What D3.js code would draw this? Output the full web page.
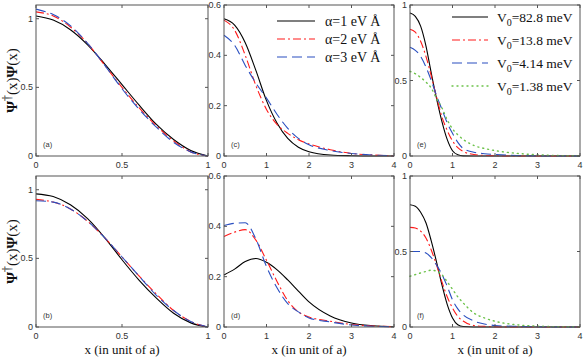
<!DOCTYPE html>
<html>
<head>
<meta charset="utf-8">
<script src="https://cdn.jsdelivr.net/npm/d3@7"></script>
<style>
  body { margin: 0; background: #fff; }
  svg { display: block; }
</style>
</head>
<body>
<div id="chart"></div>
<script>
// x grids
const xsAB = [0, 0.1, 0.2, 0.3, 0.4, 0.5, 0.6, 0.7, 0.8, 0.9, 1];
const xsCD = [0, 0.25, 0.5, 0.75, 1, 1.25, 1.5, 1.75, 2, 2.5, 3, 3.5, 4];
const xsEF = [0, 0.125, 0.25, 0.375, 0.5, 0.625, 0.75, 0.875, 1, 1.125, 1.25, 1.5, 1.75, 2, 2.5, 3, 3.5, 4];

// panel (a)
const aBlack = [1.02, 0.99, 0.92, 0.81, 0.67, 0.52, 0.37, 0.23, 0.12, 0.04, 0];
const aRed   = [1.05, 1.02, 0.94, 0.82, 0.66, 0.50, 0.35, 0.22, 0.11, 0.03, 0];
const aBlue  = [1.07, 1.03, 0.95, 0.82, 0.66, 0.49, 0.34, 0.21, 0.10, 0.03, 0];
// panel (b)
const bBlack = [0.97, 0.95, 0.89, 0.79, 0.65, 0.49, 0.34, 0.21, 0.10, 0.03, 0];
const bRed   = [0.93, 0.91, 0.86, 0.77, 0.65, 0.51, 0.37, 0.24, 0.12, 0.04, 0];
const bBlue  = [0.92, 0.91, 0.86, 0.77, 0.65, 0.51, 0.37, 0.23, 0.12, 0.04, 0];
// panel (c)
const cBlack = [0.545, 0.52, 0.45, 0.34, 0.22, 0.13, 0.07, 0.035, 0.017, 0.004, 0.001, 0, 0];
const cRed   = [0.54, 0.50, 0.40, 0.28, 0.185, 0.125, 0.09, 0.065, 0.048, 0.025, 0.01, 0.004, 0.001];
const cBlue  = [0.48, 0.44, 0.36, 0.29, 0.23, 0.165, 0.11, 0.07, 0.045, 0.022, 0.01, 0.004, 0.001];
// panel (d)
const dBlack = [0.207, 0.23, 0.26, 0.272, 0.257, 0.227, 0.187, 0.143, 0.10, 0.044, 0.016, 0.005, 0.001];
const dRed   = [0.36, 0.377, 0.387, 0.345, 0.265, 0.18, 0.105, 0.06, 0.04, 0.023, 0.01, 0.004, 0.001];
const dBlue  = [0.403, 0.412, 0.414, 0.35, 0.24, 0.155, 0.093, 0.06, 0.036, 0.02, 0.008, 0.003, 0.001];
// panel (e)
const eBlack = [0.947, 0.925, 0.86, 0.73, 0.55, 0.38, 0.23, 0.11, 0.035, 0.008, 0.001, 0, 0, 0, 0, 0, 0, 0];
const eRed   = [0.84, 0.82, 0.76, 0.66, 0.53, 0.39, 0.26, 0.17, 0.10, 0.055, 0.03, 0.01, 0.004, 0.002, 0, 0, 0, 0];
const eBlue  = [0.72, 0.70, 0.66, 0.59, 0.50, 0.40, 0.31, 0.22, 0.15, 0.09, 0.05, 0.025, 0.015, 0.01, 0.003, 0.001, 0, 0];
const eGreen = [0.56, 0.545, 0.52, 0.49, 0.45, 0.38, 0.32, 0.24, 0.18, 0.14, 0.11, 0.07, 0.05, 0.036, 0.018, 0.008, 0.003, 0.001];
// panel (f)
const fBlack = [0.81, 0.80, 0.76, 0.69, 0.57, 0.43, 0.28, 0.15, 0.06, 0.015, 0.003, 0, 0, 0, 0, 0, 0, 0];
const fRed   = [0.66, 0.655, 0.635, 0.59, 0.51, 0.41, 0.30, 0.20, 0.126, 0.07, 0.04, 0.01, 0.004, 0.002, 0, 0, 0, 0];
const fBlue  = [0.50, 0.50, 0.50, 0.49, 0.46, 0.41, 0.35, 0.27, 0.18, 0.12, 0.08, 0.04, 0.02, 0.01, 0.004, 0.002, 0, 0];
const fGreen = [0.336, 0.347, 0.358, 0.368, 0.376, 0.37, 0.347, 0.30, 0.25, 0.20, 0.16, 0.093, 0.06, 0.038, 0.015, 0.006, 0.002, 0.001];

const alphaLabels = ["α=1 eV Å", "α=2 eV Å", "α=3 eV Å"];
const v0Labels = ["82.8 meV", "13.8 meV", "4.14 meV", "1.38 meV"];

const styles = [
    { color: "#000000", dash: null },
    { color: "#ff1a1a", dash: "8,3,2,3" },
    { color: "#2a4fc0", dash: "10,5" },
    { color: "#6cc24a", dash: "1,4" }
];

const W = 583, H = 362;
const svg = d3.select("#chart").append("svg")
    .attr("width", W).attr("height", H);

const cols = [[36, 208], [224, 394], [410, 580]];
const rows = [[5, 156], [176, 327]];

const panels = [
    { col: 0, row: 0, tag: "(a)", xs: xsAB, xd: [0, 1], yd: [0, 1.1], xt: [0, 0.5, 1], yt: [0, 0.5, 1], series: [aBlack, aRed, aBlue] },
    { col: 0, row: 1, tag: "(b)", xs: xsAB, xd: [0, 1], yd: [0, 1.1], xt: [0, 0.5, 1], yt: [0, 0.5, 1], series: [bBlack, bRed, bBlue] },
    { col: 1, row: 0, tag: "(c)", xs: xsCD, xd: [0, 4], yd: [0, 0.6], xt: [0, 1, 2, 3, 4], yt: [0, 0.2, 0.4, 0.6], series: [cBlack, cRed, cBlue] },
    { col: 1, row: 1, tag: "(d)", xs: xsCD, xd: [0, 4], yd: [0, 0.6], xt: [0, 1, 2, 3, 4], yt: [0, 0.2, 0.4, 0.6], series: [dBlack, dRed, dBlue] },
    { col: 2, row: 0, tag: "(e)", xs: xsEF, xd: [0, 4], yd: [0, 1], xt: [0, 1, 2, 3, 4], yt: [0, 0.5, 1], series: [eBlack, eRed, eBlue, eGreen] },
    { col: 2, row: 1, tag: "(f)", xs: xsEF, xd: [0, 4], yd: [0, 1], xt: [0, 1, 2, 3, 4], yt: [0, 0.5, 1], series: [fBlack, fRed, fBlue, fGreen] }
];

const axisColor = "#555";
const tickFont = "'Liberation Sans', Arial, Helvetica, sans-serif";
const serif = "'Times New Roman', 'Liberation Serif', Times, serif";

panels.forEach(p => {
    const [x0, x1] = cols[p.col];
    const [y0, y1] = rows[p.row];
    const x = d3.scaleLinear().domain(p.xd).range([x0, x1]);
    const y = d3.scaleLinear().domain(p.yd).range([y1, y0]);
    const g = svg.append("g");

    // curves
    const line = d3.line()
        .x((d, i) => x(p.xs[i]))
        .y(d => y(d))
        .curve(d3.curveMonotoneX);

    p.series.forEach((s, i) => {
        g.append("path")
            .attr("d", line(s))
            .attr("fill", "none")
            .attr("stroke", styles[i].color)
            .attr("stroke-width", i === 3 ? 1.4 : 1.1)
            .attr("stroke-linecap", i === 3 ? "round" : "butt")
            .attr("stroke-dasharray", styles[i].dash);
    });

    // box
    g.append("rect")
        .attr("x", x0).attr("y", y0)
        .attr("width", x1 - x0).attr("height", y1 - y0)
        .attr("fill", "none")
        .attr("stroke", axisColor)
        .attr("stroke-width", 1);

    // ticks (inward, mirrored)
    const tl = 3;
    p.xt.forEach(t => {
        g.append("line").attr("x1", x(t)).attr("x2", x(t)).attr("y1", y1).attr("y2", y1 - tl).attr("stroke", axisColor);
        g.append("line").attr("x1", x(t)).attr("x2", x(t)).attr("y1", y0).attr("y2", y0 + tl).attr("stroke", axisColor);
        g.append("text")
            .attr("x", x(t)).attr("y", y1 + 12)
            .attr("text-anchor", "middle")
            .style("font-family", tickFont).style("font-size", "9px").style("fill", "#333")
            .text(t);
    });
    p.yt.forEach(t => {
        g.append("line").attr("x1", x0).attr("x2", x0 + tl).attr("y1", y(t)).attr("y2", y(t)).attr("stroke", axisColor);
        g.append("line").attr("x1", x1).attr("x2", x1 - tl).attr("y1", y(t)).attr("y2", y(t)).attr("stroke", axisColor);
        g.append("text")
            .attr("x", x0 - 3).attr("y", y(t) + 3)
            .attr("text-anchor", "end")
            .style("font-family", tickFont).style("font-size", "9px").style("fill", "#333")
            .text(t);
    });

    // panel tag
    g.append("text")
        .attr("x", x0 + 7).attr("y", y1 - 9)
        .style("font-family", tickFont).style("font-size", "7.5px").style("fill", "#333")
        .text(p.tag);

    // x label on bottom row
    if (p.row === 1) {
        g.append("text")
            .attr("x", (x0 + x1) / 2).attr("y", 354)
            .attr("text-anchor", "middle")
            .style("font-family", serif).style("font-size", "13px").style("fill", "#111")
            .text("x (in unit of a)");
    }
});

// y labels
rows.forEach(r => {
    const cy = (r[0] + r[1]) / 2;
    const t = svg.append("text")
        .attr("transform", `translate(17, ${cy}) rotate(-90)`)
        .attr("text-anchor", "middle")
        .style("font-family", serif).style("font-size", "15px").style("fill", "#111");
    t.append("tspan").style("font-weight", "bold").text("Ψ");
    t.append("tspan").attr("dy", -6).style("font-size", "12px").text("†");
    t.append("tspan").attr("dy", 6).text("(x)");
    t.append("tspan").style("font-weight", "bold").text("Ψ");
    t.append("tspan").text("(x)");
});

// legend (c)
const legC = svg.append("g");
alphaLabels.forEach((lab, i) => {
    const yy = 21 + i * 18;
    legC.append("line")
        .attr("x1", 277).attr("x2", 315).attr("y1", yy).attr("y2", yy)
        .attr("stroke", styles[i].color).attr("stroke-width", 1.1)
        .attr("stroke-dasharray", styles[i].dash);
    legC.append("text")
        .attr("x", 325).attr("y", yy + 5)
        .style("font-family", serif).style("font-size", "14px").style("fill", "#111")
        .text(lab);
});

// legend (e)
const legE = svg.append("g");
v0Labels.forEach((lab, i) => {
    const yy = 17 + i * 23;
    legE.append("line")
        .attr("x1", 452).attr("x2", 488).attr("y1", yy).attr("y2", yy)
        .attr("stroke", styles[i].color).attr("stroke-width", i === 3 ? 1.4 : 1.1)
        .attr("stroke-linecap", i === 3 ? "round" : "butt")
        .attr("stroke-dasharray", styles[i].dash);
    const t = legE.append("text")
        .attr("x", 497).attr("y", yy + 5)
        .style("font-family", serif).style("font-size", "13.5px").style("fill", "#111");
    t.append("tspan").text("V");
    t.append("tspan").attr("dy", 4).style("font-size", "10px").text("0");
    t.append("tspan").attr("dy", -4).text("=" + lab);
});
</script>
</body>
</html>
